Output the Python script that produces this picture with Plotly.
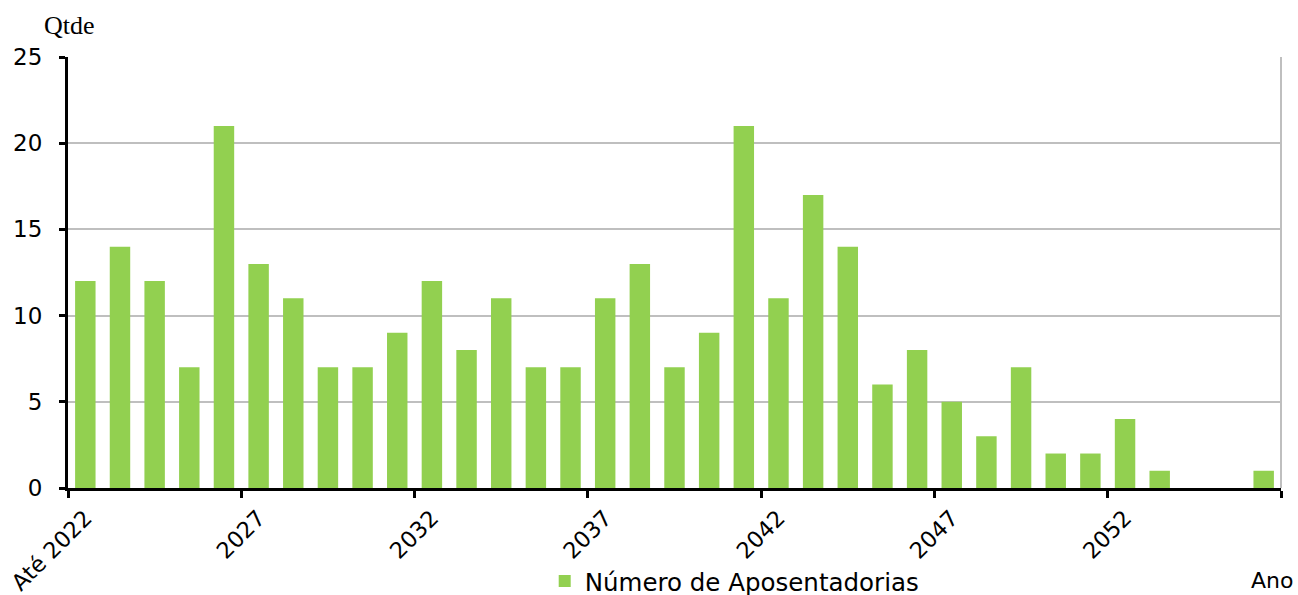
import plotly.graph_objects as go

# data :
anos = list(range(2022, 2057))
aposentadorias = [12, 14, 12, 7, 21, 13, 11, 7, 7, 9, 12, 8, 11, 7, 7, 11, 13, 7,
                  9, 21, 11, 17, 14, 6, 8, 5, 3, 7, 2, 2, 4, 1, 0, 0, 1]
rotulos_x = ["Até 2022", "2027", "2032", "2037", "2042", "2047", "2052"]
anos_rotulo = [2022, 2027, 2032, 2037, 2042, 2047, 2052]

VERDE = "#92D050"
CINZA = "#BFBFBF"
FONTE = "DejaVu Sans, Arial, sans-serif"

fig = go.Figure(
    go.Bar(x=anos, y=aposentadorias, name="Número de Aposentadorias",
           marker_color=VERDE, marker_line_width=0))

# ticks between groups of 5 years, plus the right end
limites = [a - 0.5 for a in anos_rotulo] + [anos[-1] + 0.5]

fig.update_layout(
    width=1298, height=595,
    margin=dict(l=68, r=17, t=57, b=107, autoexpand=False),
    plot_bgcolor="white", paper_bgcolor="white",
    bargap=0.41,
    font=dict(family=FONTE, size=23, color="black"),
    showlegend=True,
    legend=dict(orientation="h", x=0.393, xanchor="left", y=-0.164,
                yanchor="top", font=dict(size=24.5), itemwidth=30,
                bgcolor="rgba(0,0,0,0)"),
)

fig.update_xaxes(
    range=[anos[0] - 0.5, anos[-1] + 0.5], automargin=False,
    tickmode="array", tickvals=anos_rotulo, ticktext=rotulos_x,
    tickangle=-45, ticks="", showgrid=False, zeroline=False,
    showline=True, linecolor="black", linewidth=3,
    tickfont=dict(size=22.5), ticklabelstandoff=5, ticklabeloverflow="allow",
    minor=dict(tickmode="array", tickvals=limites, ticks="outside",
               ticklen=7, tickwidth=3, tickcolor="black", showgrid=False),
)

fig.update_yaxes(
    range=[0, 25], tickmode="linear", tick0=0, dtick=5, automargin=False,
    ticks="outside", ticklen=6, tickwidth=3, tickcolor="black",
    showline=True, linecolor="black", linewidth=3,
    showgrid=True, gridcolor=CINZA, gridwidth=2, zeroline=False,
    tickfont=dict(size=23), ticklabelstandoff=12,
)

# right border of the plot area
fig.add_shape(type="line", xref="paper", yref="paper", x0=1, x1=1, y0=0, y1=1,
              line=dict(color=CINZA, width=2), layer="below")

fig.add_annotation(text="Qtde", xref="paper", yref="paper",
                   x=-0.0214, y=1.074, xanchor="left", yanchor="middle",
                   showarrow=False,
                   font=dict(family="Liberation Serif, Times New Roman, serif",
                             size=26, color="black"))
fig.add_annotation(text="Ano", xref="paper", yref="paper",
                   x=1.0115, y=-0.215, xanchor="right", yanchor="middle",
                   showarrow=False, font=dict(size=22, color="black"))

# no body margin / scrollbars so the figure fills the window exactly
fig.write_html("out.html", config={"displayModeBar": False},
               post_script="document.body.style.margin='0';"
                           "document.body.style.overflow='hidden';")
